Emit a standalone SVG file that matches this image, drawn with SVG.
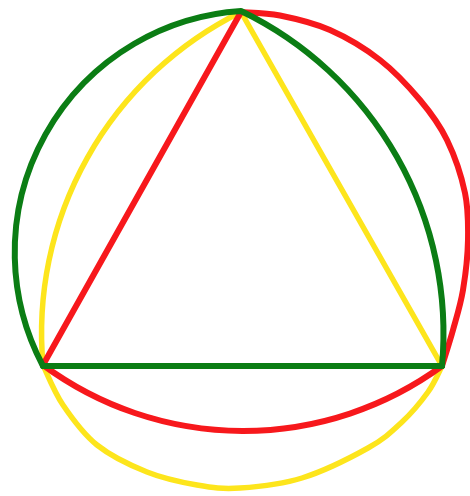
<svg xmlns="http://www.w3.org/2000/svg" width="470" height="496" viewBox="0 0 470 496">
<style>
path, line { fill: none; stroke-linecap: round; stroke-linejoin: round; }
.y { stroke: #fde51c; stroke-width: 5.5; }
.r { stroke: #f7181c; stroke-width: 6; }
.g { stroke: #0b7d14; stroke-width: 6; }
</style>
<rect width="470" height="496" fill="#ffffff"/>
<g id="yellow">
<path class="y" d="M241,12 A358,358 0 0 0 43,365"/>
<path class="y" d="M43,365 C46.3,371.7 54,391.7 63,405 C72,418.3 83,433.8 97,445 C111,456.2 130.3,465.3 147,472 C163.7,478.7 181.5,482.3 197,485 C212.5,487.7 222.5,489.2 240,488 C257.5,486.8 280.7,484.7 302,478 C323.3,471.3 351.3,457.3 368,448 C384.7,438.7 392,431.3 402,422 C412,412.7 421.3,401.3 428,392 C434.7,382.7 439.7,370.3 442,366"/>
<line class="y" x1="241" y1="12" x2="442" y2="366"/>
</g>
<g id="red">
<path class="r" d="M241,12 C247.5,12.6 265.2,12.5 280,15.5 C294.8,18.5 313.3,22.6 330,30 C346.7,37.4 365,48.3 380,60 C395,71.7 408.8,86.7 420,100 C431.2,113.3 439.5,124.5 447,140 C454.5,155.5 461.5,176.3 465,193 C468.5,209.7 468.3,223.8 468,240 C467.7,256.2 465.5,275 463,290 C460.5,305 456.5,317.3 453,330 C449.5,342.7 443.8,360 442,366"/>
<path class="r" d="M442,366 A337,337 0 0 1 43,365"/>
<line class="r" x1="43" y1="365" x2="241" y2="12"/>
</g>
<g id="green">
<path class="g" d="M43,366 A242,242 0 0 1 241,11 A358,358 0 0 1 442,366"/>
<line class="g" x1="43" y1="366" x2="442" y2="366"/>
</g>
</svg>
